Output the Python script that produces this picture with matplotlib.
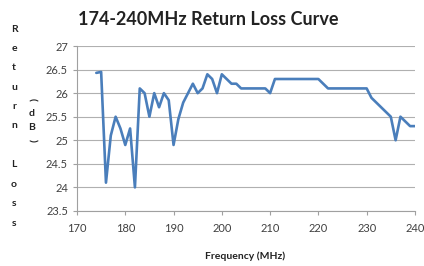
import matplotlib
matplotlib.use('Agg')
import matplotlib.pyplot as plt

# 频率 (MHz) 和 回波损耗 (dB)
freq = [174, 175, 176, 177, 178, 179, 180, 181, 182, 183, 184, 185, 186, 187, 188, 189,
        190, 191, 192, 193, 194, 195, 196, 197, 198, 199, 200, 201, 202, 203, 204, 205,
        206, 207, 208, 209, 210, 211, 212, 213, 214, 215, 216, 217, 218, 219, 220, 221,
        222, 223, 224, 225, 226, 227, 228, 229, 230, 231, 232, 233, 234, 235, 236, 237,
        238, 239, 240]
loss = [26.43, 26.45, 24.1, 25.1, 25.5, 25.25, 24.9, 25.25, 24.0, 26.1, 26.0, 25.5, 26.0, 25.7, 26.0, 25.85,
        24.9, 25.45, 25.8, 26.0, 26.2, 26.0, 26.1, 26.4, 26.3, 26.0, 26.4, 26.3, 26.2, 26.2, 26.1, 26.1,
        26.1, 26.1, 26.1, 26.1, 26.0, 26.3, 26.3, 26.3, 26.3, 26.3, 26.3, 26.3, 26.3, 26.3, 26.3, 26.2,
        26.1, 26.1, 26.1, 26.1, 26.1, 26.1, 26.1, 26.1, 26.1, 25.9, 25.8, 25.7, 25.6, 25.5, 25.0, 25.5,
        25.4, 25.3, 25.3]
xticks = [170, 180, 190, 200, 210, 220, 230, 240]
yticks = [23.5, 24, 24.5, 25, 25.5, 26, 26.5, 27]

plt.rcParams['font.family'] = ['Lato', 'DejaVu Sans']

fig = plt.figure(figsize=(4.24, 2.66), dpi=100)
ax = fig.add_axes([0.1816, 0.207, 0.797, 0.62])
ax.plot(freq, loss, color='#4a7ebb', lw=1.9, solid_joinstyle='round', solid_capstyle='round')

ax.set_xlim(170, 240)
ax.set_ylim(23.5, 27)
ax.set_xticks(xticks)
ax.set_yticks(yticks)
ax.set_yticklabels(['23.5', '24', '24.5', '25', '25.5', '26', '26.5', '27'])
ax.grid(axis='y', color='#b0b0b0', lw=0.8)
ax.set_axisbelow(True)
for s in ['top', 'right']:
    ax.spines[s].set_visible(False)
for s in ['left', 'bottom']:
    ax.spines[s].set_color('#a0a0a0')
    ax.spines[s].set_linewidth(0.8)
ax.tick_params(colors='#a0a0a0', labelcolor='#404040', labelsize=8, length=3, width=0.8)
ax.tick_params(axis='x', pad=6)

fig.text(0.491, 0.925, '174-240MHz Return Loss Curve', ha='center', va='center',
         fontsize=13, fontweight='bold', color='#222222')
fig.text(0.578, 0.036, 'Frequency (MHz)', ha='center', va='center',
         fontsize=7.5, fontweight='bold', color='#222222')

# 竖排的y轴标题
letters = ['R', 'e', 't', 'u', 'r', 'n', '', 'L', 'o', 's', 's']
for i, ch in enumerate(letters):
    fig.text(14 / 424, 1 - (29 + i * 19.4) / 266, ch, ha='center', va='center',
             fontsize=7.5, fontweight='bold', color='#222222')
unit = [('(', 99, 270), ('d', 114, 0), ('B', 128, 0), (')', 140, 270)]
for ch, yy, rot in unit:
    fig.text(32 / 424, 1 - yy / 266, ch, ha='center', va='center', rotation=rot,
             fontsize=7.5, fontweight='bold', color='#222222')

plt.savefig('out.png', dpi=100)
plt.close()
